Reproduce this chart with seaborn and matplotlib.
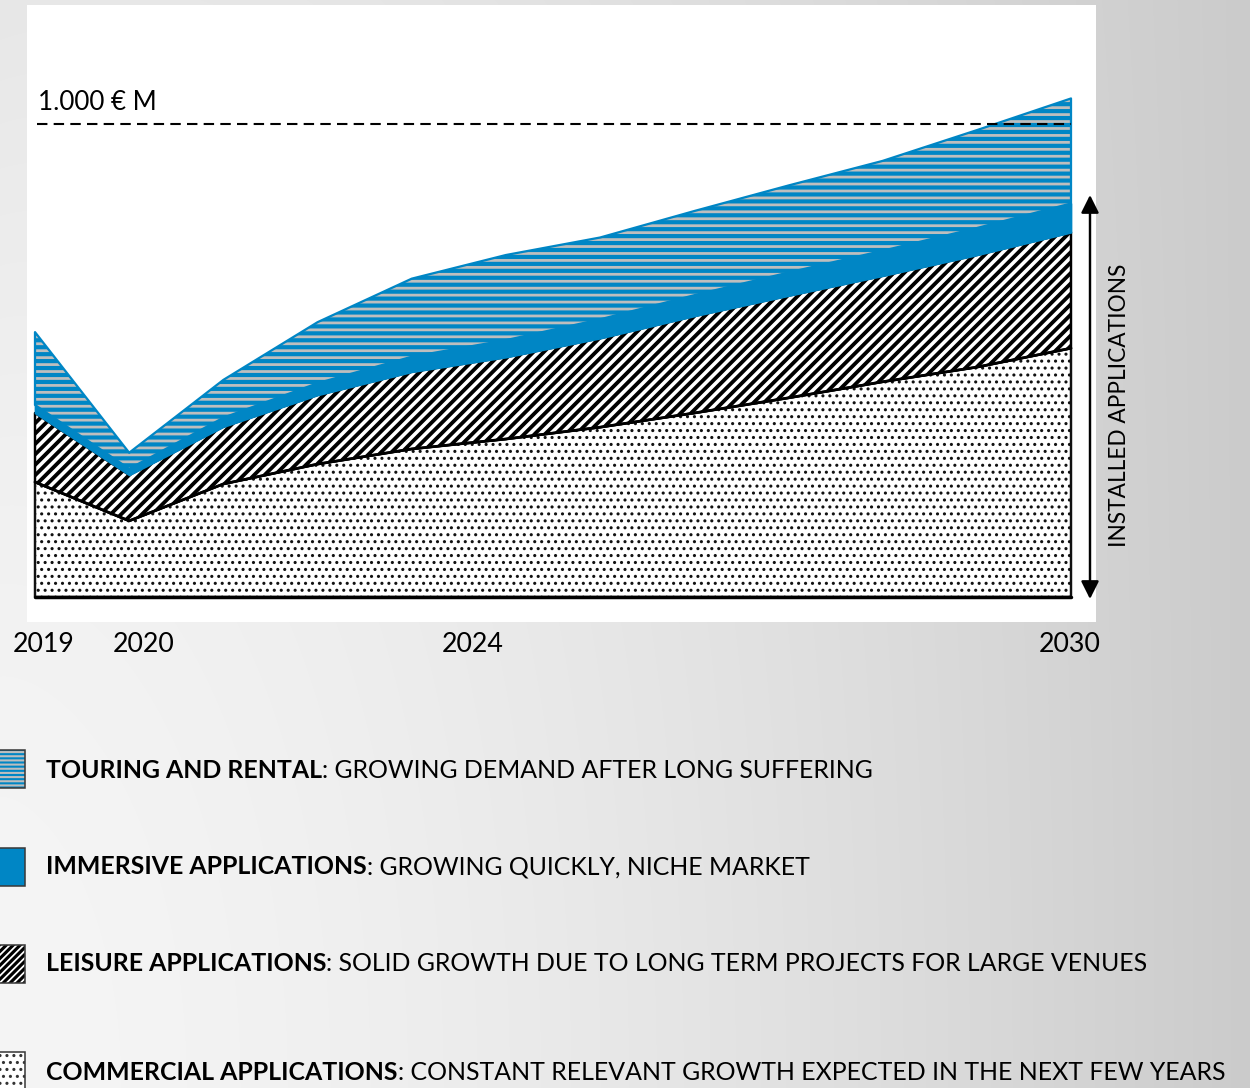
import numpy as np
import pandas as pd
import matplotlib
matplotlib.use("Agg")
import matplotlib.pyplot as plt
from matplotlib.patches import Rectangle, FancyArrowPatch
import seaborn as sns

# ---- data (€ M per year, stacked from the bottom up) ----
years = [2019, 2020, 2021, 2022, 2023, 2024, 2025, 2026, 2027, 2028, 2029, 2030]
commercial = [243, 161, 239, 281, 313, 334, 359, 389, 421, 455, 486, 526]
leisure = [146, 97, 121, 146, 163, 173, 188, 205, 216, 224, 237, 245]
immersive = [17, 13, 19, 25, 32, 36, 40, 44, 49, 53, 57, 61]
touring = [154, 34, 80, 129, 165, 180, 173, 178, 184, 190, 207, 222]

threshold = 1000
threshold_label = "1.000 € M"
tick_years = [2019, 2020, 2024, 2030]
tick_labels = ["2019", "2020", "2024", "2030"]
side_label = "INSTALLED APPLICATIONS"

legend_bold = ["TOURING AND RENTAL", "IMMERSIVE APPLICATIONS",
               "LEISURE APPLICATIONS", "COMMERCIAL APPLICATIONS"]
legend_rest = [": GROWING DEMAND AFTER LONG SUFFERING",
               ": GROWING QUICKLY, NICHE MARKET",
               ": SOLID GROWTH DUE TO LONG TERM PROJECTS FOR LARGE VENUES",
               ": CONSTANT RELEVANT GROWTH EXPECTED IN THE NEXT FEW YEARS"]

# ---- styling / layout ----
W, H, DPI = 1250, 1088, 125
BLUE = "#0086C5"
STRIPE = "#BEBEBE"
PT = 72.0 / DPI  # points per pixel

sns.set_theme(style="white")
plt.rcParams["font.family"] = ["Lato", "DejaVu Sans"]
plt.rcParams["text.color"] = "black"
plt.rcParams["hatch.linewidth"] = 1.6


def fx(x):
    return x / W


def fy(y):
    return 1 - y / H


def set_hlw(artist, lw):
    if hasattr(artist, "set_hatch_linewidth"):
        artist.set_hatch_linewidth(lw)


fig = plt.figure(figsize=(W / DPI, H / DPI), dpi=DPI)

# grey gradient backdrop and white chart panel
bg = fig.add_axes([0, 0, 1, 1], zorder=-10)
u = np.linspace(0, 1, W)[None, :]
v = np.linspace(0, 1, H)[:, None]
shade = (245 - 42 * u ** 1.6 - 14 * (1 - v) ** 2 * (1 - u)) / 255.0
shade = np.clip(shade, 0, 1)
bg.imshow(np.repeat(shade[:, :, None], 3, axis=2), aspect="auto",
          extent=[0, 1, 0, 1], interpolation="bilinear")
bg.add_patch(Rectangle((fx(27), fy(622)), (1096 - 27) / W, (622 - 5) / H,
                       facecolor="white", edgecolor="none"))
bg.set_xlim(0, 1)
bg.set_ylim(0, 1)
bg.axis("off")

# main chart area
ax = fig.add_axes([fx(35), fy(597), (1071 - 35) / W, (597 - 5) / H])
ax.set_xlim(years[0], years[-1])
ax.set_ylim(0, 592 / 0.473)
ax.axis("off")

df = pd.DataFrame({"year": years, "commercial": commercial, "leisure": leisure,
                   "immersive": immersive, "touring": touring})
df["c1"] = df["commercial"]
df["c2"] = df["c1"] + df["leisure"]
df["c3"] = df["c2"] + df["immersive"]
df["c4"] = df["c3"] + df["touring"]

comm = ax.fill_between(df["year"], 0, df["c1"], facecolor="white",
                       edgecolor="#111111", hatch="...", linewidth=1.4,
                       clip_on=False, zorder=1)
set_hlw(comm, 1.0)
leis = ax.fill_between(df["year"], df["c1"], df["c2"], facecolor="white",
                       edgecolor="black", hatch="////", linewidth=1.4,
                       clip_on=False, zorder=2)
set_hlw(leis, 2.2)
ax.fill_between(df["year"], df["c2"], df["c3"], facecolor=BLUE,
                edgecolor=BLUE, linewidth=1.0, clip_on=False, zorder=3)
tour = ax.fill_between(df["year"], df["c3"], df["c4"], facecolor=BLUE,
                       edgecolor=STRIPE, hatch="---", linewidth=0,
                       clip_on=False, zorder=4)
set_hlw(tour, 1.6)
ax.fill_between(df["year"], df["c3"], df["c4"], facecolor="none",
                edgecolor=BLUE, linewidth=1.3, clip_on=False, zorder=5)

# boundary lines between the lower layers
sns.lineplot(data=df, x="year", y="c1", color="black", linewidth=1.6,
             ax=ax, zorder=6, clip_on=False)
sns.lineplot(x=[years[0], years[-1]], y=[0, 0], color="black",
             linewidth=2.0, ax=ax, zorder=7, clip_on=False)
ax.axis("off")

# 1.000 € M reference line
ax.axhline(threshold, xmin=0.002, color="black", linewidth=1.2,
           dashes=(5, 3), zorder=8)
ax.annotate(threshold_label, xy=(years[0], threshold), xycoords="data",
            xytext=(3 * PT, 14 * PT), textcoords="offset points",
            ha="left", va="baseline", fontsize=15.0)

# year labels under the axis
label_dx = [9, 14, -33, -1]
for yr, lab, dx in zip(tick_years, tick_labels, label_dx):
    ax.annotate(lab, xy=(yr, 0), xycoords="data",
                xytext=(dx * PT, -55 * PT), textcoords="offset points",
                ha="center", va="baseline", fontsize=15.4,
                annotation_clip=False)

# double arrow with its caption
arrow = FancyArrowPatch(posA=(fx(1090), fy(599)), posB=(fx(1090), fy(195)),
                        transform=fig.transFigure,
                        arrowstyle="<|-|>,head_length=0.86,head_width=0.43",
                        mutation_scale=10, linewidth=1.4, color="black",
                        shrinkA=0, shrinkB=0)
fig.add_artist(arrow)
fig.text(fx(1119), fy(405), side_label, rotation=90, ha="center",
         va="center", fontsize=13.0)

# legend rows: swatch, bold name, description
row_base = [778, 874, 971, 1080]
icon_top = [750, 848, 945, 1052]
icon_h = 38
renderer = fig.canvas.get_renderer()

base_size = 15.0
probe_b = fig.text(0, 0, legend_bold[3], fontsize=base_size, weight="bold")
probe_r = fig.text(0, 0, legend_rest[3], fontsize=base_size)
wtot = (probe_b.get_window_extent(renderer).width
        + probe_r.get_window_extent(renderer).width)
probe_b.remove()
probe_r.remove()
leg_size = base_size * (1224 - 46) / wtot

for i in range(4):
    yb = fy(row_base[i])
    tb = fig.text(fx(46), yb, legend_bold[i], fontsize=leg_size,
                  weight="bold", va="baseline", ha="left")
    bb = tb.get_window_extent(renderer)
    fig.text(bb.x1 / W, yb, legend_rest[i], fontsize=leg_size,
             va="baseline", ha="left")

icon_styles = [
    dict(facecolor=BLUE, hatch_color=STRIPE, hatch="-----", hlw=1.2),
    dict(facecolor=BLUE, hatch_color=None, hatch=None, hlw=None),
    dict(facecolor="white", hatch_color="black", hatch="//////", hlw=1.8),
    dict(facecolor="white", hatch_color="#333333", hatch="...", hlw=1.0),
]
for i, st in enumerate(icon_styles):
    x0, y0 = fx(-2), fy(icon_top[i] + icon_h)
    wdt, hgt = 27 / W, icon_h / H
    if st["hatch"]:
        p = Rectangle((x0, y0), wdt, hgt, transform=fig.transFigure,
                      facecolor=st["facecolor"],
                      edgecolor=st["hatch_color"], hatch=st["hatch"],
                      linewidth=0)
        set_hlw(p, st["hlw"])
        fig.add_artist(p)
    else:
        fig.add_artist(Rectangle((x0, y0), wdt, hgt,
                                 transform=fig.transFigure,
                                 facecolor=st["facecolor"], linewidth=0))
    fig.add_artist(Rectangle((x0, y0), wdt, hgt, transform=fig.transFigure,
                             facecolor="none", edgecolor="#3a3a3a",
                             linewidth=0.9))

fig.savefig("out.png", dpi=DPI)
